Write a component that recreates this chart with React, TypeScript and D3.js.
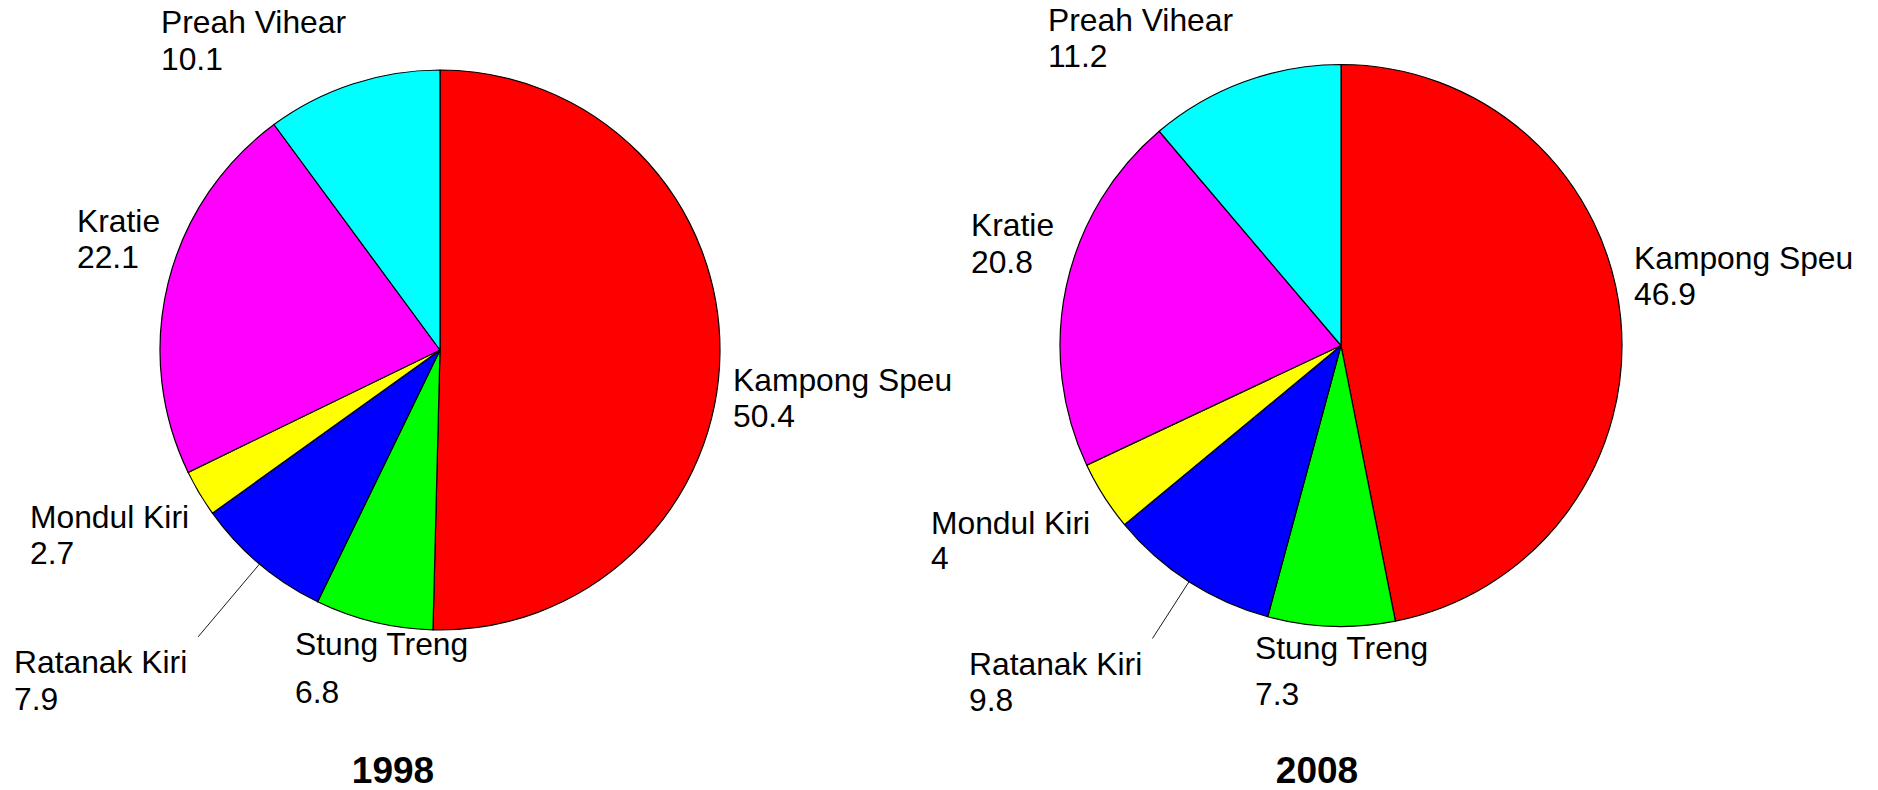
import { useEffect, useRef } from 'react';
import * as d3 from 'd3';

// provinces, in the order the slices are drawn (clockwise from 12 o'clock)
const provinces = ['Kampong Speu', 'Stung Treng', 'Ratanak Kiri', 'Mondul Kiri', 'Kratie', 'Preah Vihear'];
const sliceColors = ['#ff0000', '#00ff00', '#0000ff', '#ffff00', '#ff00ff', '#00ffff'];
const years = ['1998', '2008'];
const share1998 = [50.4, 6.8, 7.9, 2.7, 22.1, 10.1];
const share2008 = [46.9, 7.3, 9.8, 4, 20.8, 11.2];
const valueLabels1998 = ['50.4', '6.8', '7.9', '2.7', '22.1', '10.1'];
const valueLabels2008 = ['46.9', '7.3', '9.8', '4', '20.8', '11.2'];

// where each pie sits and where its labels go
const panels = [
  {
    cx: 440, cy: 350, r: 280, titleX: 393, titleY: 783, leader: 1.34,
    labels: [[733, 391, 427], [295, 655, 703], [14, 673, 710], [30, 528, 564], [77, 232, 268], [161, 33, 70]],
  },
  {
    cx: 1341, cy: 345.5, r: 281, titleX: 1317, titleY: 783, leader: 1.24,
    labels: [[1634, 269, 305], [1255, 659, 705], [969, 675, 711], [931, 534, 569], [971, 236, 273], [1048, 31, 67]],
  },
];

export default function App() {
  const ref = useRef<SVGSVGElement>(null);

  useEffect(() => {
    const svg = d3.select(ref.current);
    svg.selectAll('*').remove();

    const series = [share1998, share2008];
    const valueLabels = [valueLabels1998, valueLabels2008];

    const pie = d3.pie<number>().sort(null).value((d) => d).startAngle(0).endAngle(2 * Math.PI);

    panels.forEach((p, k) => {
      const arcs = pie(series[k]);
      const arc = d3.arc<d3.PieArcDatum<number>>().innerRadius(0).outerRadius(p.r);

      const g = svg.append('g').attr('transform', `translate(${p.cx},${p.cy})`);
      g.selectAll('path')
        .data(arcs)
        .enter()
        .append('path')
        .attr('d', arc)
        .attr('fill', (d, i) => sliceColors[i])
        .attr('stroke', '#000')
        .attr('stroke-width', 1.2)
        .attr('stroke-linejoin', 'round');

      // leader line for Ratanak Kiri
      const rk = arcs[2];
      const mid = (rk.startAngle + rk.endAngle) / 2;
      g.append('line')
        .attr('x1', p.r * Math.sin(mid))
        .attr('y1', -p.r * Math.cos(mid))
        .attr('x2', p.r * p.leader * Math.sin(mid))
        .attr('y2', -p.r * p.leader * Math.cos(mid))
        .attr('stroke', '#000')
        .attr('stroke-width', 0.9);

      const txt = svg.append('g')
        .attr('font-family', '"Liberation Sans", Arial, sans-serif')
        .attr('font-size', 31.8)
        .attr('fill', '#000');
      provinces.forEach((name, i) => {
        const [x, y1, y2] = p.labels[i];
        txt.append('text').attr('x', x).attr('y', y1).text(name);
        txt.append('text').attr('x', x).attr('y', y2).text(valueLabels[k][i]);
      });

      svg.append('text')
        .attr('x', p.titleX)
        .attr('y', p.titleY)
        .attr('text-anchor', 'middle')
        .attr('font-family', '"Liberation Sans", Arial, sans-serif')
        .attr('font-weight', 'bold')
        .attr('font-size', 37)
        .text(years[k]);
    });
  }, []);

  return (
    <svg
      ref={ref}
      width={1878}
      height={790}
      style={{ position: 'absolute', left: 0, top: 0, background: '#fff' }}
    />
  );
}
